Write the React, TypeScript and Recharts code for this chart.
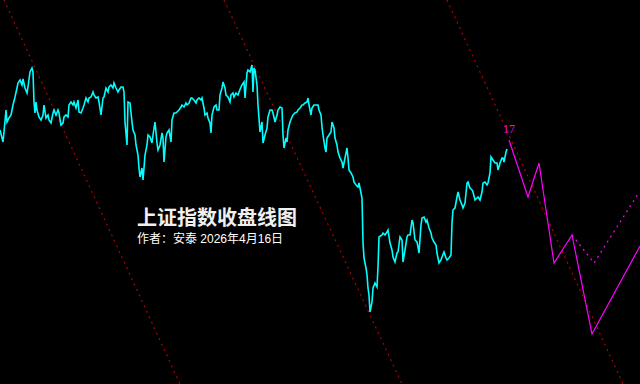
import { LineChart, Line, XAxis, YAxis, ReferenceLine, ReferenceDot } from "recharts";

// 交易日序号, 收盘点位
const closes: [number, number][] = [
  [0, 3380], [2, 3348], [3, 3332], [4, 3372], [6, 3460], [7, 3412], [9, 3428], [11, 3440],
  [13, 3480], [15, 3512], [17, 3548], [18, 3568], [20, 3580], [22, 3560], [23, 3584], [25, 3548],
  [27, 3528], [28, 3552], [30, 3612], [32, 3628], [33, 3612], [34, 3492], [35, 3448], [36, 3492],
  [37, 3460], [39, 3432], [41, 3420], [43, 3440], [44, 3480], [46, 3428], [48, 3440], [49, 3420],
  [51, 3408], [53, 3448], [54, 3460], [56, 3440], [58, 3460], [59, 3448], [61, 3400], [63, 3408],
  [64, 3432], [66, 3440], [68, 3432], [69, 3480], [71, 3492], [73, 3480], [74, 3492], [76, 3468],
  [78, 3500], [79, 3452], [81, 3448], [83, 3468], [84, 3480], [86, 3508], [88, 3492], [89, 3508],
  [91, 3512], [93, 3532], [94, 3520], [96, 3508], [98, 3512], [99, 3492], [101, 3440], [103, 3508],
  [104, 3512], [106, 3548], [108, 3532], [109, 3552], [111, 3560], [113, 3548], [114, 3568], [116, 3548],
  [118, 3532], [119, 3540], [121, 3552], [123, 3552], [124, 3532], [125, 3412], [127, 3320], [128, 3492],
  [130, 3488], [132, 3412], [133, 3380], [135, 3360], [136, 3320], [138, 3280], [139, 3228], [140, 3192],
  [142, 3228], [143, 3180], [144, 3228], [145, 3280], [147, 3320], [148, 3360], [150, 3352], [152, 3328],
  [153, 3360], [155, 3412], [157, 3328], [158, 3300], [160, 3320], [162, 3368], [163, 3348], [164, 3252],
  [166, 3352], [167, 3368], [169, 3380], [171, 3332], [172, 3420], [174, 3448], [176, 3448], [177, 3452],
  [179, 3460], [181, 3472], [182, 3480], [184, 3472], [186, 3488], [187, 3480], [189, 3488], [191, 3508],
  [192, 3508], [194, 3500], [196, 3488], [197, 3500], [199, 3508], [201, 3500], [202, 3508], [204, 3468],
  [205, 3440], [207, 3448], [208, 3428], [210, 3408], [211, 3368], [212, 3440], [214, 3472], [216, 3480],
  [217, 3460], [219, 3460], [220, 3520], [222, 3548], [223, 3572], [225, 3548], [226, 3520], [228, 3512],
  [230, 3492], [231, 3520], [233, 3528], [234, 3512], [236, 3528], [238, 3520], [239, 3532], [241, 3552],
  [242, 3560], [244, 3572], [245, 3508], [247, 3608], [248, 3620], [250, 3612], [252, 3640], [253, 3532],
  [254, 3628], [255, 3620], [257, 3560], [258, 3480], [260, 3372], [262, 3412], [263, 3328], [265, 3360],
  [267, 3388], [268, 3432], [270, 3460], [272, 3460], [273, 3448], [275, 3412], [277, 3440], [278, 3460],
  [280, 3472], [282, 3468], [283, 3360], [284, 3308], [286, 3348], [287, 3332], [288, 3380], [290, 3412],
  [292, 3432], [293, 3440], [295, 3448], [297, 3452], [298, 3460], [300, 3468], [302, 3480], [303, 3480],
  [305, 3488], [307, 3492], [308, 3508], [309, 3480], [311, 3440], [312, 3468], [314, 3480], [316, 3480],
  [318, 3480], [319, 3460], [321, 3440], [322, 3392], [323, 3360], [325, 3308], [326, 3292], [327, 3348],
  [329, 3360], [331, 3372], [332, 3412], [334, 3388], [335, 3348], [337, 3320], [338, 3292], [340, 3268],
  [342, 3252], [343, 3228], [345, 3268], [347, 3308], [348, 3268], [349, 3220], [351, 3208], [353, 3192],
  [354, 3172], [356, 3160], [358, 3152], [359, 3168], [360, 3148], [362, 3108], [363, 2932], [364, 2868],
  [366, 2828], [367, 2800], [368, 2748], [369, 2720], [370, 2652], [372, 2692], [373, 2748], [375, 2768],
  [377, 2752], [378, 2832], [379, 2952], [382, 2960], [383, 2968], [385, 2960], [387, 2972], [388, 2980],
  [390, 2928], [392, 2900], [393, 2872], [395, 2852], [397, 2888], [398, 2892], [400, 2952], [402, 2940],
  [403, 2852], [405, 2900], [407, 2952], [408, 2960], [410, 2960], [412, 3020], [413, 3008], [415, 2940],
  [417, 2932], [418, 2912], [419, 2888], [421, 3000], [422, 3028], [424, 3032], [426, 3012], [427, 3020],
  [429, 2988], [431, 2968], [432, 2948], [434, 2932], [436, 2920], [437, 2888], [439, 2848], [441, 2860],
  [442, 2872], [444, 2892], [446, 2868], [447, 2860], [449, 2868], [451, 2880], [452, 3008], [453, 3060],
  [455, 3068], [457, 3112], [458, 3132], [460, 3100], [462, 3080], [463, 3068], [465, 3088], [467, 3168],
  [468, 3172], [470, 3148], [472, 3140], [473, 3132], [475, 3100], [477, 3108], [478, 3112], [480, 3100],
  [482, 3132], [483, 3168], [485, 3172], [487, 3160], [488, 3168], [490, 3208], [491, 3272], [493, 3260],
  [495, 3248], [497, 3248], [498, 3220], [500, 3248], [502, 3268], [503, 3268], [504, 3252], [506, 3292],
  [507, 3304],
];

// 预测走势 (实线)
const forecastMain: [number, number][] = [
  [509, 3340], [528, 3112], [539, 3248], [554, 2848], [572, 2960], [592, 2564], [640, 2916],
];

// 预测走势 (虚线分支)
const forecastAlt: [number, number][] = [
  [572, 2960], [594, 2848], [638, 3124],
];

// 平行通道线
const channelLines: [number, number][][] = [
  [[4, 3900], [180, 2364]],
  [[224, 3900], [402, 2364]],
  [[447, 3900], [623, 2364]],
];

const waveLabel = "17";

const toRows = (pts: [number, number][]) => pts.map(([day, v]) => ({ day, v }));

const textFont = "'Liberation Sans', 'Noto Sans CJK SC', sans-serif";

const App = () => {
  return (
    <div
      style={{
        position: "absolute",
        left: 0,
        top: 0,
        width: 640,
        height: 384,
        background: "#000",
        overflow: "hidden",
      }}
    >
      <LineChart width={640} height={384} margin={{ top: 0, right: 0, bottom: 0, left: 0 }}>
        <XAxis type="number" dataKey="day" domain={[0, 640]} hide allowDataOverflow />
        <YAxis type="number" domain={[2364, 3900]} hide allowDataOverflow />
        {channelLines.map((seg, i) => (
          <ReferenceLine
            key={`ch-${i}`}
            segment={seg.map(([x, y]) => ({ x, y }))}
            stroke="#b00000"
            strokeWidth={1.2}
            strokeDasharray="2 4"
            ifOverflow="visible"
          />
        ))}
        <Line
          data={toRows(closes)}
          dataKey="v"
          type="linear"
          stroke="#00ffff"
          strokeWidth={1.6}
          dot={false}
          activeDot={false}
          isAnimationActive={false}
        />
        <Line
          data={toRows(forecastMain)}
          dataKey="v"
          type="linear"
          stroke="#ff00ff"
          strokeWidth={1.2}
          dot={false}
          activeDot={false}
          isAnimationActive={false}
        />
        <Line
          data={toRows(forecastAlt)}
          dataKey="v"
          type="linear"
          stroke="#ff00ff"
          strokeWidth={1.2}
          strokeDasharray="2 4"
          dot={false}
          activeDot={false}
          isAnimationActive={false}
        />
        <ReferenceDot
          x={forecastMain[0][0]}
          y={forecastMain[0][1]}
          r={0}
          fill="none"
          stroke="none"
          ifOverflow="visible"
          label={{
            value: waveLabel,
            position: "top",
            offset: 7,
            fill: "#ff00ff",
            fontSize: 12,
            fontFamily: "Liberation Serif",
          }}
        />
      </LineChart>
      <div
        style={{
          position: "absolute",
          left: 137,
          top: 208,
          color: "#f0f0f0",
          fontFamily: textFont,
          fontWeight: 700,
          fontSize: 20,
          lineHeight: "21px",
          whiteSpace: "nowrap",
        }}
      >
        上证指数收盘线图
      </div>
      <div
        style={{
          position: "absolute",
          left: 137,
          top: 232,
          color: "#fff",
          fontFamily: textFont,
          fontSize: 12,
          lineHeight: "14px",
          whiteSpace: "nowrap",
        }}
      >
        作者：安泰 2026年4月16日
      </div>
    </div>
  );
};

export default App;
